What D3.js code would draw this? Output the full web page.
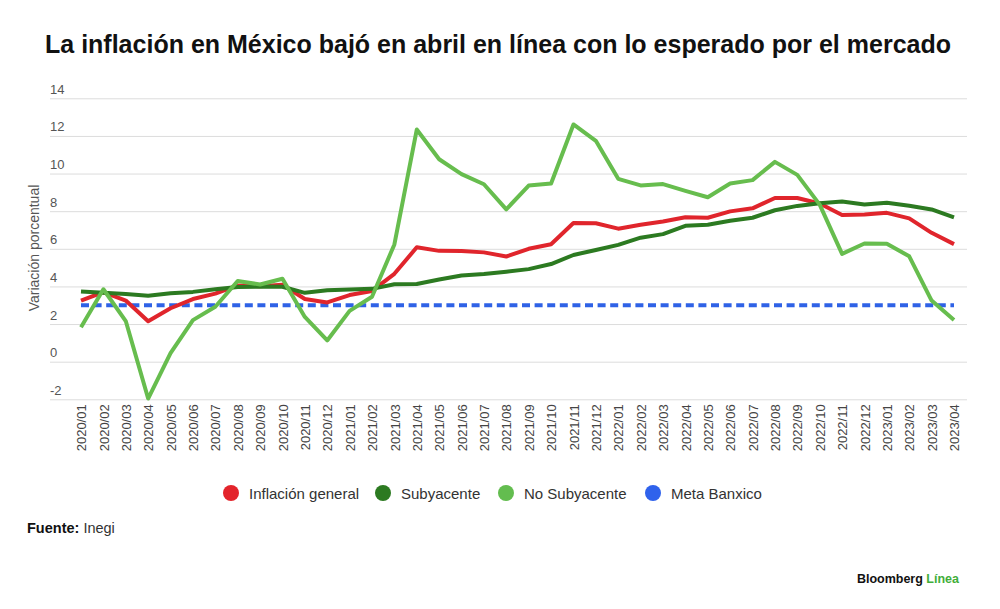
<!DOCTYPE html>
<html lang="es">

<head>
    <meta charset="UTF-8">
    <script src="https://d3js.org/d3.v7.min.js"></script>
    <title>Inflación México</title>
    <style>
        body { margin: 0; background: #fff; }
        svg { display: block; font-family: 'Liberation Sans', Arial, sans-serif; }
    </style>
</head>

<body>
    <div id="app"></div>
    <script>
        const svg_width = 1000;
        const svg_height = 609;

        // meses 2020/01 - 2023/04
        var months = ['2020/01', '2020/02', '2020/03', '2020/04', '2020/05', '2020/06', '2020/07', '2020/08', '2020/09', '2020/10', '2020/11', '2020/12',
            '2021/01', '2021/02', '2021/03', '2021/04', '2021/05', '2021/06', '2021/07', '2021/08', '2021/09', '2021/10', '2021/11', '2021/12',
            '2022/01', '2022/02', '2022/03', '2022/04', '2022/05', '2022/06', '2022/07', '2022/08', '2022/09', '2022/10', '2022/11', '2022/12',
            '2023/01', '2023/02', '2023/03', '2023/04']

        var inflacion_general = [3.24, 3.70, 3.25, 2.15, 2.84, 3.33, 3.62, 4.05, 4.01, 4.09, 3.33, 3.15,
            3.54, 3.76, 4.67, 6.08, 5.89, 5.88, 5.81, 5.59, 6.00, 6.24, 7.37, 7.36,
            7.07, 7.28, 7.45, 7.68, 7.65, 7.99, 8.15, 8.70, 8.70, 8.41, 7.80, 7.82,
            7.91, 7.62, 6.85, 6.25]
        var subyacente = [3.73, 3.66, 3.60, 3.50, 3.64, 3.71, 3.85, 3.97, 3.99, 3.98, 3.66, 3.80,
            3.84, 3.87, 4.12, 4.13, 4.37, 4.58, 4.66, 4.78, 4.92, 5.19, 5.67, 5.94,
            6.21, 6.59, 6.78, 7.22, 7.28, 7.49, 7.65, 8.05, 8.28, 8.42, 8.51, 8.35,
            8.45, 8.29, 8.09, 7.67]
        var no_subyacente = [1.83, 3.85, 2.16, -1.96, 0.45, 2.21, 2.92, 4.29, 4.10, 4.41, 2.38, 1.13,
            2.70, 3.45, 6.23, 12.34, 10.76, 9.97, 9.43, 8.10, 9.36, 9.47, 12.61, 11.74,
            9.72, 9.37, 9.44, 9.08, 8.74, 9.47, 9.65, 10.62, 9.93, 8.35, 5.73, 6.28,
            6.27, 5.60, 3.25, 2.22]
        var meta_banxico = months.map(function () { return 3 })

        var y_ticks = [-2, 0, 2, 4, 6, 8, 10, 12, 14]

        var series = [
            { name: 'Meta Banxico', values: meta_banxico, color: '#2f62e6', dash: '8,4.6' },
            { name: 'Inflación general', values: inflacion_general, color: '#e0252c' },
            { name: 'Subyacente', values: subyacente, color: '#2c7a21' },
            { name: 'No Subyacente', values: no_subyacente, color: '#67bd4e' }
        ]
        var legend_items = [
            { name: 'Inflación general', color: '#e3242b', cx: 231 },
            { name: 'Subyacente', color: '#2c7a21', cx: 383 },
            { name: 'No Subyacente', color: '#63bd4f', cx: 506 },
            { name: 'Meta Banxico', color: '#2f62ec', cx: 653 }
        ]

        var svg = d3.select('#app')
            .append('svg')
            .attr('width', svg_width)
            .attr('height', svg_height)

        var x_scale = d3.scalePoint()
            .domain(months)
            .range([81, 954])
        var y_scale = d3.scaleLinear()
            .domain([-2, 14])
            .range([399.3, 98.3])

        // titulo
        svg.append('text')
            .attr('x', 498)
            .attr('y', 53)
            .attr('text-anchor', 'middle')
            .attr('font-size', 25)
            .attr('font-weight', 'bold')
            .attr('fill', '#111')
            .attr('textLength', 906)
            .attr('lengthAdjust', 'spacingAndGlyphs')
            .text('La inflación en México bajó en abril en línea con lo esperado por el mercado')

        // grid + etiquetas eje y
        var y_axis = svg.append('g')
            .attr('transform', 'translate(50,0)')
            .call(d3.axisRight(y_scale).tickValues(y_ticks).tickSize(917).tickFormat(function (d) {
                return String(d)
            }))
        y_axis.select('.domain').remove()
        y_axis.selectAll('line').attr('stroke', '#dcdcdc').attr('stroke-width', 1)
        y_axis.selectAll('text')
            .attr('x', 0)
            .attr('dy', -5)
            .attr('text-anchor', 'start')
            .attr('font-size', 13)
            .attr('fill', '#555')
            .style('font-family', "'Liberation Sans', Arial, sans-serif")

        // eje x
        var x_axis = svg.append('g')
            .attr('transform', 'translate(0,399.3)')
            .call(d3.axisBottom(x_scale).tickSize(0))
        x_axis.select('.domain').remove()
        x_axis.selectAll('text')
            .attr('transform', 'rotate(-90)')
            .attr('x', -5)
            .attr('y', 0)
            .attr('dy', '0.36em')
            .attr('text-anchor', 'end')
            .attr('font-size', 13)
            .attr('fill', '#444')
            .style('font-family', "'Liberation Sans', Arial, sans-serif")

        svg.append('text')
            .attr('transform', 'translate(39,248) rotate(-90)')
            .attr('text-anchor', 'middle')
            .attr('font-size', 14)
            .attr('fill', '#555')
            .text('Variación porcentual')

        var line = d3.line()
            .x(function (d, i) {
                return x_scale(months[i])
            })
            .y(function (d) {
                return y_scale(d)
            })

        svg.selectAll('.serie')
            .data(series)
            .enter()
            .append('path')
            .attr('class', 'serie')
            .attr('d', function (d) {
                return line(d.values)
            })
            .attr('fill', 'none')
            .attr('stroke', function (d) {
                return d.color
            })
            .attr('stroke-width', 4)
            .attr('stroke-linejoin', 'round')
            .attr('stroke-dasharray', function (d) {
                return d.dash || null
            })

        // leyenda
        var legend = svg.selectAll('.legend')
            .data(legend_items)
            .enter()
            .append('g')
            .attr('class', 'legend')
        legend.append('circle')
            .attr('cx', function (d) { return d.cx })
            .attr('cy', 493)
            .attr('r', 8)
            .attr('fill', function (d) { return d.color })
        legend.append('text')
            .attr('x', function (d) { return d.cx + 18 })
            .attr('y', 498.5)
            .attr('font-size', 15)
            .attr('fill', '#333')
            .text(function (d) { return d.name })

        var fuente = svg.append('text')
            .attr('x', 27)
            .attr('y', 533)
            .attr('font-size', 14.5)
            .attr('fill', '#111')
        fuente.append('tspan').attr('font-weight', 'bold').text('Fuente:')
        fuente.append('tspan').attr('fill', '#333').text(' Inegi')

        var marca = svg.append('text')
            .attr('x', 959)
            .attr('y', 583)
            .attr('text-anchor', 'end')
            .attr('font-size', 12.5)
            .attr('font-weight', 'bold')
        marca.append('tspan').attr('fill', '#111').text('Bloomberg ')
        marca.append('tspan').attr('fill', '#3fae3a').text('Línea')
    </script>
</body>

</html>
